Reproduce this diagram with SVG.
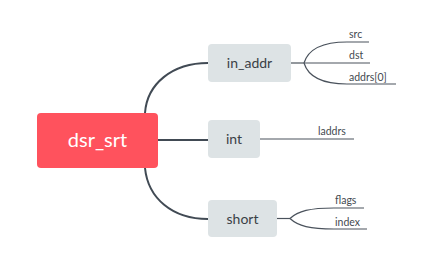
<svg xmlns="http://www.w3.org/2000/svg" width="439" height="255" viewBox="0 0 439 255">
  <style>
    .main { stroke: #414a54; stroke-width: 2; fill: none; stroke-linecap: round; }
    .sub { stroke: #4a525c; stroke-width: 1.2; fill: none; }
    .topic { fill: #dde3e5; }
    .topic-text { font-family: Lato, "Open Sans", sans-serif; font-size: 14px; fill: #3a3f45; text-anchor: middle; }
    .leaf-text { font-family: Lato, "Open Sans", sans-serif; font-size: 10.5px; fill: #444a50; }
  </style>
  <rect width="439" height="255" fill="#ffffff"/>

  <g id="connectors">
    <!-- root to topics -->
    <path class="main" d="M145,113 C147,84 172,63 208,63"/>
    <line class="main" x1="158" y1="140" x2="208" y2="140"/>
    <path class="main" d="M145,168 C148,198 172,219 208,219"/>
    <!-- in_addr branches -->
    <line class="sub" x1="291" y1="63" x2="304" y2="63"/>
    <path class="sub" d="M304,63 C308,50 322,42 347,42 L369,42"/>
    <line class="sub" x1="304" y1="63" x2="370" y2="63"/>
    <path class="sub" d="M304,63 C308,76 322,84 347,84 L396,84"/>
    <!-- int branch -->
    <line class="sub" x1="260" y1="139" x2="354" y2="139"/>
    <!-- short branches -->
    <line class="sub" x1="277" y1="218.5" x2="290" y2="218.5"/>
    <path class="sub" d="M290,218.5 C298,211 310,208 334,208 L364,208"/>
    <path class="sub" d="M290,218.5 C298,226 310,229 334,229 L367,229"/>
  </g>

  <g id="root">
    <rect x="37" y="113" width="121" height="55" rx="4" fill="#ff525d"/>
    <text x="97.5" y="147" font-family="Lato, 'Open Sans', sans-serif" font-size="20" fill="#ffffff" text-anchor="middle">dsr_srt</text>
  </g>

  <g id="in_addr">
    <rect class="topic" x="208" y="44" width="83" height="38" rx="4"/>
    <text class="topic-text" x="249.5" y="68">in_addr</text>
  </g>
  <g id="int">
    <rect class="topic" x="208" y="120" width="52" height="38" rx="4"/>
    <text class="topic-text" x="234" y="144">int</text>
  </g>
  <g id="short">
    <rect class="topic" x="208" y="200" width="69" height="37" rx="4"/>
    <text class="topic-text" x="242.5" y="223.5">short</text>
  </g>

  <g id="leaf-src"><text class="leaf-text" x="349" y="38">src</text></g>
  <g id="leaf-dst"><text class="leaf-text" x="349" y="59">dst</text></g>
  <g id="leaf-addrs"><text class="leaf-text" x="349" y="80.5">addrs[0]</text></g>
  <g id="leaf-laddrs"><text class="leaf-text" x="318" y="135">laddrs</text></g>
  <g id="leaf-flags"><text class="leaf-text" x="335" y="204">flags</text></g>
  <g id="leaf-index"><text class="leaf-text" x="335" y="225.5">index</text></g>
</svg>
